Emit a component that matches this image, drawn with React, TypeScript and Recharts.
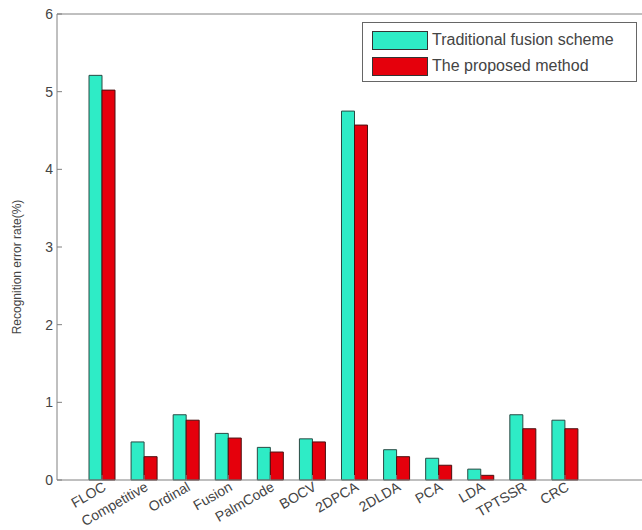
import React from 'react';
import { BarChart, Bar, XAxis, YAxis, Legend } from 'recharts';

const methods = ['FLOC', 'Competitive', 'Ordinal', 'Fusion', 'PalmCode', 'BOCV', '2DPCA', '2DLDA', 'PCA', 'LDA', 'TPTSSR', 'CRC'];
const traditional = [5.21, 0.49, 0.84, 0.6, 0.42, 0.53, 4.75, 0.39, 0.28, 0.14, 0.84, 0.77];
const proposed = [5.02, 0.3, 0.77, 0.54, 0.36, 0.49, 4.57, 0.3, 0.19, 0.06, 0.66, 0.66];
const yTicks = [0, 1, 2, 3, 4, 5, 6];
const seriesOrder = ['traditional', 'proposed'];

const data = methods.map((name, i) => ({ name, traditional: traditional[i], proposed: proposed[i] }));

const FONT = '"Liberation Sans", Arial, Helvetica, sans-serif';
const AXIS = '#808080';
const TEAL = '#2eecc6';
const RED = '#e5000c';

const LegendBox = ({ payload }: any) => {
    const items = [...(payload || [])].sort(
        (a: any, b: any) => seriesOrder.indexOf(a.dataKey) - seriesOrder.indexOf(b.dataKey)
    );
    return (
        <div
            style={{
                width: 275,
                height: 60,
                border: '1px solid #666',
                background: '#fff',
                fontFamily: FONT,
                fontSize: 16,
                color: '#444',
                boxSizing: 'border-box',
                paddingTop: 6,
                whiteSpace: 'nowrap',
            }}
        >
            {items.map((entry: any, i: number) => (
                <div key={i} style={{ display: 'flex', alignItems: 'center', height: 22, marginBottom: 4 }}>
                    <span
                        style={{
                            display: 'inline-block',
                            width: 56,
                            height: 19,
                            marginLeft: 9,
                            marginRight: 4,
                            background: entry.color,
                            border: '1px solid #333',
                            boxSizing: 'border-box',
                        }}
                    />
                    <span>{entry.value}</span>
                </div>
            ))}
        </div>
    );
};

const YLabel = ({ viewBox }: any) => {
    const x = viewBox.x + 21;
    const y = viewBox.y + viewBox.height / 2 + 20;
    return (
        <text
            x={x}
            y={y}
            transform={`rotate(-90, ${x}, ${y})`}
            textAnchor="middle"
            fontSize={12}
            fontFamily={FONT}
            fill="#444"
        >
            Recognition error rate(%)
        </text>
    );
};

export default function App() {
    return (
        <div style={{ position: 'fixed', left: 0, top: 0, width: 642, height: 530, overflow: 'hidden', background: '#fff' }}>
            <BarChart
                width={652}
                height={530}
                data={data}
                margin={{ top: 13, right: 5, bottom: 0, left: 0 }}
                barGap={0}
                barSize={13}
            >
                <XAxis
                    dataKey="name"
                    height={50}
                    padding={{ left: 24, right: 60 }}
                    interval={0}
                    stroke={AXIS}
                    tickSize={-5}
                    tickMargin={6}
                    tick={{ angle: -30, textAnchor: 'end', fontSize: 14, fill: '#444', fontFamily: FONT }}
                />
                <XAxis
                    xAxisId="top"
                    orientation="top"
                    dataKey="name"
                    height={1}
                    padding={{ left: 24, right: 60 }}
                    interval={0}
                    stroke={AXIS}
                    tickSize={-5}
                    tick={false}
                />
                <YAxis
                    domain={[0, 6]}
                    ticks={yTicks}
                    width={57}
                    stroke={AXIS}
                    tickSize={-5}
                    tickMargin={9}
                    tick={{ fontSize: 14, fill: '#444', fontFamily: FONT }}
                    label={<YLabel />}
                />
                <YAxis
                    yAxisId="right"
                    orientation="right"
                    domain={[0, 6]}
                    ticks={yTicks}
                    width={1}
                    stroke={AXIS}
                    tickSize={-5}
                    tick={false}
                />
                <Legend
                    layout="horizontal"
                    verticalAlign="middle"
                    align="center"
                    wrapperStyle={{ top: 22, left: 362, width: 275 }}
                    content={<LegendBox />}
                />
                <Bar
                    dataKey="traditional"
                    name="Traditional fusion scheme"
                    fill={TEAL}
                    stroke="#2a4a44"
                    strokeWidth={1}
                    isAnimationActive={false}
                />
                <Bar
                    dataKey="proposed"
                    name="The proposed method"
                    fill={RED}
                    stroke="#4a1010"
                    strokeWidth={1}
                    isAnimationActive={false}
                />
            </BarChart>
        </div>
    );
}
